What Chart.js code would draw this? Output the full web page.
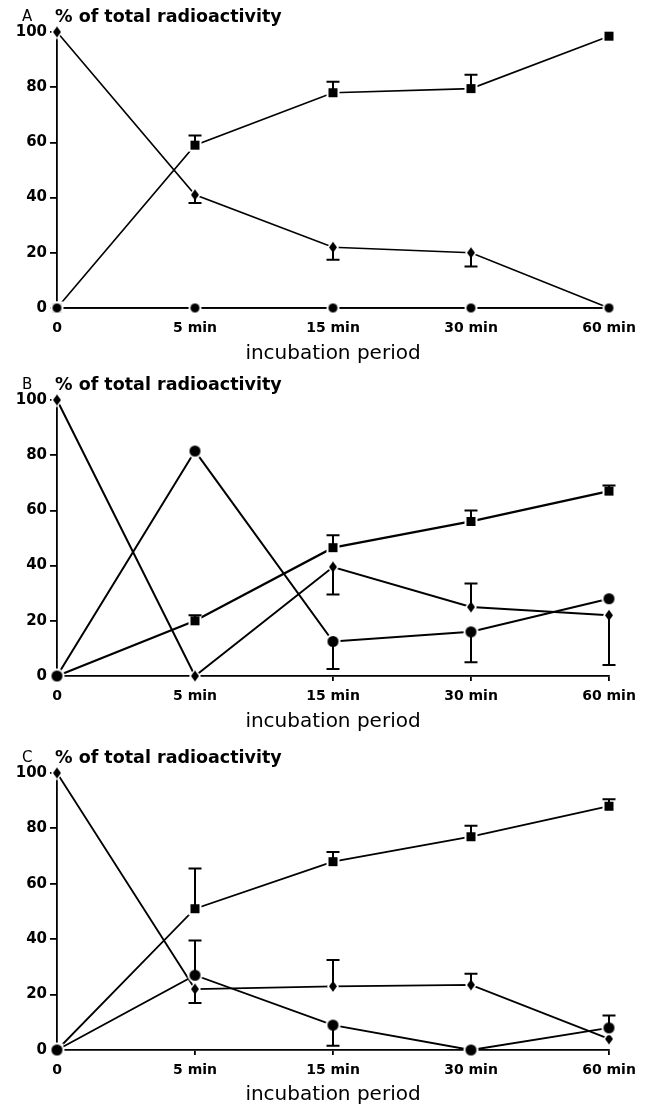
<!DOCTYPE html>
<html>
<head>
<meta charset="utf-8">
<script src="https://cdn.jsdelivr.net/npm/chart.js@4.4.0/dist/chart.umd.min.js"></script>
<style>
  body { margin: 0; background: #fff; }
  canvas { position: absolute; left: 0; }
</style>
</head>
<body>
<canvas id="chartA" width="647" height="369" style="top:0px"></canvas>
<canvas id="chartB" width="647" height="369" style="top:369px"></canvas>
<canvas id="chartC" width="647" height="369" style="top:738px"></canvas>
<script>
// categories and tick labels
const timeLabels = ['0', '5 min', '15 min', '30 min', '60 min'];
const yTickValues = [0, 20, 40, 60, 80, 100];

// panel A
const aDiamond = [100, 41, 22, 20, 0];
const aDiamondErr = [null, 38, 17.5, 15, null];
const aSquare = [0, 59, 78, 79.5, 98.5];
const aSquareErr = [null, 62.5, 82, 84.5, null];
const aCircle = [0, 0, 0, 0, 0];

// panel B
const bDiamond = [100, 0, 39.5, 25, 22];
const bDiamondErr = [null, null, 29.5, 33.5, 4];
const bCircle = [0, 81.5, 12.5, 16, 28];
const bCircleErr = [null, null, 2.5, 5, null];
const bSquare = [0, 20, 46.5, 56, 67];
const bSquareErr = [null, 22, 51, 60, 69];

// panel C
const cDiamond = [100, 22, 23, 23.5, 4];
const cDiamondErr = [null, 17, 32.5, 27.5, null];
const cCircle = [0, 27, 9, 0, 8];
const cCircleErr = [null, 39.5, 1.5, null, 12.5];
const cSquare = [0, 51, 68, 77, 88];
const cSquareErr = [null, 65.5, 71.5, 81, 90.5];

Chart.defaults.font.family = 'DejaVu Sans';
Chart.defaults.color = '#000';

// black marker with a white halo, so lines stop short of it
function marker(shape, w, h) {
  const halo = 2;
  const c = document.createElement('canvas');
  c.width = w + halo * 2 + 2;
  c.height = h + halo * 2 + 2;
  const ctx = c.getContext('2d');
  const cx = c.width / 2, cy = c.height / 2;
  function path(hw, hh) {
    ctx.beginPath();
    if (shape === 'square') {
      ctx.rect(cx - hw, cy - hh, hw * 2, hh * 2);
    } else if (shape === 'diamond') {
      ctx.moveTo(cx, cy - hh);
      ctx.lineTo(cx + hw, cy);
      ctx.lineTo(cx, cy + hh);
      ctx.lineTo(cx - hw, cy);
      ctx.closePath();
    } else {
      ctx.ellipse(cx, cy, hw, hh, 0, 0, Math.PI * 2);
    }
  }
  ctx.fillStyle = '#fff';
  path(w / 2 + halo, h / 2 + halo);
  ctx.fill();
  ctx.fillStyle = '#000';
  path(w / 2, h / 2);
  ctx.fill();
  return c;
}

const markers = {
  diamond: marker('diamond', 8, 11),
  square: marker('square', 9, 9),
  circle: marker('circle', 11, 11),
  smallCircle: marker('circle', 9, 9)
};

const errorBars = {
  id: 'errorBars',
  afterDatasetsDraw(chart) {
    const ctx = chart.ctx;
    const y = chart.scales.y;
    chart.data.datasets.forEach((ds, i) => {
      if (!ds.errTo) return;
      const meta = chart.getDatasetMeta(i);
      ds.errTo.forEach((e, j) => {
        if (e == null) return;
        const x = meta.data[j].x;
        const y0 = y.getPixelForValue(ds.data[j]);
        const y1 = y.getPixelForValue(e);
        ctx.save();
        ctx.strokeStyle = '#000';
        ctx.lineWidth = 2;
        ctx.beginPath();
        ctx.moveTo(x, y0);
        ctx.lineTo(x, y1);
        ctx.moveTo(x - 6.5, y1);
        ctx.lineTo(x + 6.5, y1);
        ctx.stroke();
        ctx.restore();
      });
    });
  }
};

const header = {
  id: 'header',
  afterDraw(chart, args, opts) {
    const ctx = chart.ctx;
    const y = chart.chartArea.top - 15;
    ctx.save();
    ctx.fillStyle = '#000';
    ctx.textBaseline = 'middle';
    ctx.font = '15px "DejaVu Sans"';
    ctx.fillText(opts.letter, 22, y);
    ctx.font = 'bold 17.5px "DejaVu Sans"';
    ctx.fillText(opts.text, chart.chartArea.left - 2, y);
    ctx.restore();
  }
};

function series(data, err, shape, width) {
  return {
    data: data,
    errTo: err,
    borderColor: '#000',
    borderWidth: width,
    pointStyle: markers[shape],
    pointRadius: 5,
    pointHoverRadius: 5,
    tension: 0,
    clip: false,
    fill: false
  };
}

function makePanel(id, letter, datasets, pad) {
  new Chart(document.getElementById(id), {
    type: 'line',
    data: { labels: timeLabels, datasets: datasets },
    plugins: [errorBars, header],
    options: {
      responsive: false,
      animation: false,
      devicePixelRatio: 1,
      layout: { padding: { top: pad.top, right: 38, bottom: 0, left: 0 } },
      plugins: {
        legend: { display: false },
        tooltip: { enabled: false },
        header: { letter: letter, text: '% of total radioactivity' }
      },
      scales: {
        x: {
          type: 'category',
          offset: false,
          afterFit: s => { s.height = pad.xHeight; },
          grid: { drawOnChartArea: false, drawTicks: true, tickLength: 5, color: '#000', lineWidth: 1.8 },
          border: { display: true, color: '#000', width: 1.8 },
          ticks: { font: { size: 14, weight: 'bold' }, padding: 7, maxRotation: 0 },
          title: {
            display: true,
            text: 'incubation period',
            font: { size: 20 },
            padding: { top: 0, bottom: pad.titleBottom }
          }
        },
        y: {
          min: 0,
          max: 100,
          afterBuildTicks: s => { s.ticks = yTickValues.map(v => ({ value: v })); },
          afterFit: s => { s.width = 57; },
          grid: { drawOnChartArea: false, drawTicks: true, tickLength: 7, color: '#000', lineWidth: 1.8 },
          border: { display: true, color: '#000', width: 1.8 },
          ticks: { font: { size: 15, weight: 'bold' }, padding: 3 }
        }
      }
    }
  });
}

makePanel('chartA', 'A', [
  series(aCircle, null, 'smallCircle', 1.6),
  series(aSquare, aSquareErr, 'square', 1.6),
  series(aDiamond, aDiamondErr, 'diamond', 1.6)
], { top: 32, xHeight: 61, titleBottom: 3 });

makePanel('chartB', 'B', [
  series(bCircle, bCircleErr, 'circle', 2),
  series(bSquare, bSquareErr, 'square', 2.2),
  series(bDiamond, bDiamondErr, 'diamond', 2)
], { top: 31, xHeight: 62, titleBottom: 4 });

makePanel('chartC', 'C', [
  series(cCircle, cCircleErr, 'circle', 1.8),
  series(cSquare, cSquareErr, 'square', 1.8),
  series(cDiamond, cDiamondErr, 'diamond', 1.8)
], { top: 35, xHeight: 57, titleBottom: 0 });
</script>
</body>
</html>
